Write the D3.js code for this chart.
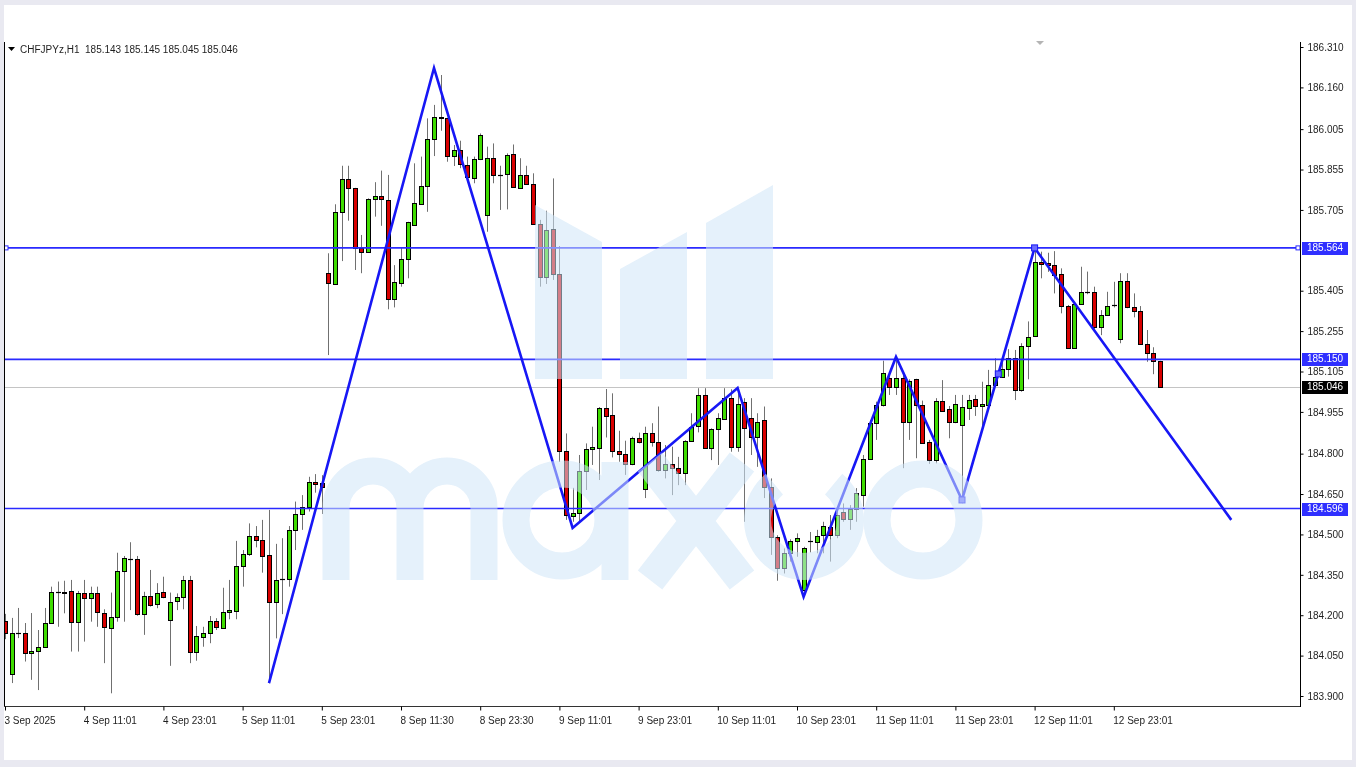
<!DOCTYPE html>
<html><head><meta charset="utf-8">
<script src="https://cdn.jsdelivr.net/npm/d3@7/dist/d3.min.js"></script>
<style>
html,body{margin:0;padding:0;background:#e9e9f1;overflow:hidden;}
svg{display:block;font-family:"Liberation Sans",Arial,sans-serif;}
</style></head><body>
<svg id="c" width="1356" height="767"></svg>
<script>
// ---------------- DATA ----------------
const opens=[184.180,183.982,184.132,184.135,184.061,184.066,184.083,184.170,184.284,184.281,
184.290,184.176,184.281,184.263,184.281,184.207,184.151,184.194,184.364,184.409,
184.408,184.203,184.271,184.242,184.287,184.182,184.254,184.266,184.331,184.062,
184.120,184.133,184.177,184.153,184.213,184.217,184.384,184.426,184.495,184.479,
184.423,184.250,184.332,184.333,184.517,184.575,184.603,184.694,184.690,185.470,
185.429,185.696,185.820,185.785,185.565,185.548,185.746,185.758,185.743,185.373,
185.435,185.522,185.649,185.727,185.795,185.967,186.051,186.045,185.905,185.928,
185.873,185.825,185.893,185.688,185.899,185.835,185.838,185.911,185.785,185.835,
185.801,185.652,185.457,185.633,185.467,184.811,184.570,184.579,184.736,184.816,
184.822,184.971,184.943,184.811,184.798,184.760,184.857,184.668,184.876,184.844,
184.739,184.760,184.745,184.727,184.848,184.901,185.018,184.822,184.891,184.928,
185.006,184.826,184.992,184.931,184.860,184.925,184.677,184.491,184.374,184.432,
184.477,184.294,184.475,184.473,184.498,184.528,184.498,184.584,184.556,184.593,
184.646,184.779,184.915,184.981,185.080,185.049,185.080,184.919,185.076,184.981,
184.844,184.777,184.997,184.965,184.919,184.906,184.968,185.002,184.977,184.981,
185.055,185.086,185.113,185.156,185.036,185.200,185.235,185.513,185.507,185.501,
185.467,185.348,185.191,185.356,185.401,185.401,185.271,185.315,185.348,185.225,
185.441,185.343,185.331,185.207,185.175,185.143];
const highs=[184.205,184.190,184.227,184.171,184.208,184.145,184.227,184.306,184.325,184.328,
184.331,184.290,184.331,184.306,184.306,184.222,184.284,184.432,184.420,184.471,
184.420,184.287,184.368,184.319,184.343,184.284,184.281,184.346,184.346,184.160,
184.157,184.197,184.189,184.302,184.331,184.476,184.442,184.541,184.531,184.554,
184.591,184.465,184.486,184.531,184.622,184.646,184.714,184.724,184.720,185.544,
185.726,185.869,185.869,185.787,185.612,185.748,185.808,185.851,185.835,185.500,
185.566,185.661,185.878,185.903,186.045,186.095,186.206,186.047,185.946,185.962,
185.903,185.903,185.989,185.940,185.952,185.869,185.915,185.948,185.897,185.869,
185.841,185.668,185.702,185.822,185.571,184.875,184.673,184.795,184.838,184.900,
184.973,185.040,185.024,184.885,184.848,184.863,184.878,184.900,184.913,184.975,
184.832,184.826,184.788,184.850,184.950,185.043,185.043,184.894,184.950,185.043,
185.039,185.037,185.006,185.006,184.950,184.975,184.708,184.497,184.448,184.482,
184.504,184.454,184.509,184.517,184.547,184.572,184.603,184.615,184.609,184.672,
184.795,184.925,184.993,185.145,185.098,185.145,185.098,185.076,185.078,184.997,
184.851,185.006,185.073,184.977,185.018,185.018,185.018,185.018,185.067,185.111,
185.154,185.160,185.188,185.185,185.210,185.291,185.569,185.550,185.546,185.552,
185.488,185.352,185.358,185.494,185.476,185.420,185.333,185.401,185.438,185.470,
185.470,185.395,185.348,185.259,185.195,185.145];
const lows=[184.111,183.948,184.115,184.028,183.960,183.922,184.083,184.170,184.157,184.207,
184.065,184.065,184.102,184.176,184.157,184.022,183.910,184.176,184.176,184.219,
184.198,184.127,184.232,184.226,184.263,184.012,184.219,184.222,184.022,184.031,
184.083,184.096,184.145,184.151,184.185,184.185,184.306,184.420,184.452,184.358,
183.947,184.114,184.204,184.306,184.442,184.517,184.585,184.655,184.576,185.166,
185.429,185.515,185.665,185.482,185.470,185.548,185.680,185.646,185.336,185.343,
185.420,185.451,185.647,185.725,185.698,185.905,185.999,185.884,185.868,185.860,
185.823,185.804,185.890,185.624,185.804,185.705,185.707,185.787,185.783,185.798,
185.649,185.420,185.430,185.445,184.769,184.554,184.547,184.547,184.665,184.758,
184.702,184.860,184.786,184.770,184.721,184.757,184.838,184.635,184.826,184.733,
184.708,184.646,184.683,184.683,184.844,184.879,184.818,184.776,184.758,184.925,
184.807,184.807,184.547,184.795,184.751,184.635,184.424,184.328,184.355,184.399,
184.417,184.275,184.433,184.430,184.430,184.399,184.486,184.547,184.517,184.547,
184.603,184.777,184.851,184.975,185.018,185.018,184.746,184.851,184.783,184.838,
184.762,184.764,184.956,184.857,184.913,184.622,184.925,184.940,184.900,184.975,
185.049,185.083,185.086,184.999,185.030,185.076,185.233,185.451,185.475,185.395,
185.321,185.189,185.189,185.352,185.392,185.259,185.240,185.311,185.343,185.210,
185.340,185.306,185.204,185.141,185.095,185.045];
const closes=[184.133,184.135,184.134,184.059,184.068,184.081,184.170,184.287,184.285,184.287,
184.174,184.281,184.263,184.281,184.211,184.157,184.194,184.364,184.411,184.408,
184.203,184.271,184.238,184.284,184.269,184.250,184.266,184.331,184.062,184.123,
184.133,184.177,184.155,184.211,184.219,184.383,184.426,184.495,184.479,184.420,
184.250,184.331,184.334,184.517,184.576,184.603,184.696,184.686,184.675,185.433,
185.696,185.820,185.788,185.563,185.548,185.746,185.758,185.745,185.373,185.438,
185.522,185.659,185.730,185.795,185.968,186.051,186.045,185.905,185.928,185.875,
185.829,185.894,185.983,185.897,185.835,185.833,185.909,185.789,185.835,185.801,
185.652,185.457,185.632,185.467,184.811,184.572,184.579,184.736,184.816,184.823,
184.971,184.940,184.811,184.798,184.760,184.857,184.844,184.876,184.844,184.739,
184.760,184.745,184.727,184.848,184.898,185.018,184.821,184.891,184.934,185.006,
184.826,184.984,184.895,184.860,184.918,184.677,184.491,184.374,184.432,184.477,
184.485,184.448,184.477,184.495,184.531,184.498,184.572,184.556,184.593,184.653,
184.779,184.915,184.981,185.098,185.049,185.080,184.919,185.071,184.981,184.841,
184.777,184.997,184.959,184.919,184.984,184.972,184.999,184.977,184.984,185.055,
185.086,185.113,185.154,185.036,185.200,185.233,185.513,185.504,185.501,185.465,
185.348,185.191,185.356,185.401,185.402,185.271,185.315,185.348,185.352,185.441,
185.343,185.331,185.207,185.175,185.145,185.046];

const xTickBars=[0,12,24,36,48,60,72,84,96,108,120,132,144,156,168];
const xTickLabels=["3 Sep 2025","4 Sep 11:01","4 Sep 23:01","5 Sep 11:01","5 Sep 23:01","8 Sep 11:30","8 Sep 23:30","9 Sep 11:01","9 Sep 23:01","10 Sep 11:01","10 Sep 23:01","11 Sep 11:01","11 Sep 23:01","12 Sep 11:01","12 Sep 23:01"];
const yTickValues=[186.310,186.160,186.005,185.855,185.705,185.405,185.255,185.105,184.955,184.800,184.650,184.500,184.350,184.200,184.050,183.900];
const levelPrices=[185.564,185.150,184.596];
const bidPrice=185.046;
const zigzagBars=[40,65,86,111,121,135,145,156,185.8];
const zigzagPrices=[183.948,186.232,184.524,185.044,184.268,185.159,184.628,185.564,184.554];
const titleText="CHFJPYz,H1  185.143 185.145 185.045 185.046";

// ---------------- LAYOUT ----------------
const PL=4, PR=1300, PT=42, PB=706;
const svg=d3.select("#c");
const x=d3.scaleLinear().domain([0,175]).range([5,1160]);
const y=d3.scaleLinear().domain([183.900,186.310]).range([696,47]);

svg.append("rect").attr("x",4).attr("y",5).attr("width",1348).attr("height",755).attr("fill","#ffffff");

const defs=svg.append("defs");
defs.append("clipPath").attr("id","clip").append("rect")
  .attr("x",PL+1).attr("y",PT).attr("width",PR-PL-1).attr("height",PB-PT);

const plot=svg.append("g").attr("clip-path","url(#clip)");

// bid line
plot.append("line").attr("x1",PL).attr("x2",PR)
  .attr("y1",Math.round(y(bidPrice))+0.5).attr("y2",Math.round(y(bidPrice))+0.5)
  .attr("stroke","#c4c4c4").attr("stroke-width",1);

// candles
const data=d3.range(opens.length).map(i=>({i,o:opens[i],h:highs[i],l:lows[i],c:closes[i]}));
const cg=plot.append("g");
cg.selectAll("line.wick").data(data).join("line").attr("class","wick")
  .attr("x1",d=>Math.round(x(d.i))+0.5).attr("x2",d=>Math.round(x(d.i))+0.5)
  .attr("y1",d=>y(Math.max(d.h,d.o,d.c))).attr("y2",d=>y(Math.min(d.l,d.o,d.c)))
  .attr("stroke","#707070").attr("stroke-width",1);
const bodies=data.filter(d=>Math.abs(y(d.o)-y(d.c))>=1.5);
cg.selectAll("rect.body").data(bodies).join("rect").attr("class","body")
  .attr("x",d=>Math.round(x(d.i))-1.5).attr("width",4)
  .attr("y",d=>Math.round(y(Math.max(d.o,d.c)))+0.5)
  .attr("height",d=>Math.max(1,Math.round(y(Math.min(d.o,d.c)))-Math.round(y(Math.max(d.o,d.c)))))
  .attr("fill",d=>d.c>=d.o?"#3fdc00":"#d80000")
  .attr("stroke","#000").attr("stroke-width",1);
const dojis=data.filter(d=>Math.abs(y(d.o)-y(d.c))<1.5);
cg.selectAll("line.doji").data(dojis).join("line").attr("class","doji")
  .attr("x1",d=>Math.round(x(d.i))-2).attr("x2",d=>Math.round(x(d.i))+3)
  .attr("y1",d=>Math.round(y(d.c))+0.5).attr("y2",d=>Math.round(y(d.c))+0.5)
  .attr("stroke","#000").attr("stroke-width",1.2);

// level lines
plot.selectAll("line.lvl").data(levelPrices).join("line").attr("class","lvl")
  .attr("x1",PL).attr("x2",PR).attr("y1",d=>y(d)).attr("y2",d=>y(d))
  .attr("stroke","#2a2aff").attr("stroke-width",1.6);
// small square handles on first level
[PL+2,PR-2].forEach(px=>{
  plot.append("rect").attr("x",px-2).attr("y",y(levelPrices[0])-2).attr("width",4).attr("height",4)
   .attr("fill","#fff").attr("stroke","#2a2aff").attr("stroke-width",1);
});

// zigzag
const zz=zigzagBars.map((b,i)=>[x(b),y(zigzagPrices[i])]);
plot.append("path").attr("d",d3.line()(zz)).attr("fill","none")
  .attr("stroke","#1717f5").attr("stroke-width",2.6).attr("stroke-linejoin","miter");
// handles
[6,7].forEach(k=>{
  plot.append("rect").attr("x",zz[k][0]-3).attr("y",zz[k][1]-3).attr("width",6).attr("height",6)
   .attr("fill","#6a6aff").attr("stroke","#1717f5").attr("stroke-width",1);
});
{
  const mx=(zz[6][0]+zz[7][0])/2, my=(zz[6][1]+zz[7][1])/2;
  plot.append("rect").attr("x",mx-3).attr("y",my-3).attr("width",6).attr("height",6)
   .attr("fill","#6a6aff").attr("stroke","#1717f5").attr("stroke-width",1);
}

// watermark overlay (maxco)
const wm=plot.append("g").attr("opacity",0.55);
const wmc="#cfe5f7";
wm.append("polygon").attr("points","535,205 602,242 602,379 535,379").attr("fill",wmc);
wm.append("polygon").attr("points","620,269 687,232 687,379 620,379").attr("fill",wmc);
wm.append("polygon").attr("points","706,223 773,185 773,379 706,379").attr("fill",wmc);
const sw=27;
// m
wm.append("path").attr("d","M336,580 V508 A37,37 0 0 1 410,508 V580 M410,508 A37,37 0 0 1 484,508 V580")
  .attr("fill","none").attr("stroke",wmc).attr("stroke-width",sw);
// a
wm.append("circle").attr("cx",562).attr("cy",520).attr("r",46).attr("fill","none").attr("stroke",wmc).attr("stroke-width",sw);
wm.append("line").attr("x1",615).attr("x2",615).attr("y1",462).attr("y2",580).attr("stroke",wmc).attr("stroke-width",sw);
// x
wm.append("line").attr("x1",650).attr("y1",462).attr("x2",742).attr("y2",580).attr("stroke",wmc).attr("stroke-width",sw+4);
wm.append("line").attr("x1",742).attr("y1",462).attr("x2",650).attr("y2",580).attr("stroke",wmc).attr("stroke-width",sw+4);
// c
{
  const arc=d3.arc().innerRadius(33).outerRadius(60).startAngle(Math.PI*0.22).endAngle(Math.PI*1.78);
  wm.append("path").attr("d",arc()).attr("transform","translate(804,520)").attr("fill",wmc);
}
// o
wm.append("circle").attr("cx",923).attr("cy",520).attr("r",46).attr("fill","none").attr("stroke",wmc).attr("stroke-width",sw);

// ---------------- FRAME & AXES ----------------
svg.append("line").attr("x1",PL+0.5).attr("x2",PL+0.5).attr("y1",PT).attr("y2",PB).attr("stroke","#000");
svg.append("line").attr("x1",PL).attr("x2",PR+1).attr("y1",PB+0.5).attr("y2",PB+0.5).attr("stroke","#333");
svg.append("line").attr("x1",PR+0.5).attr("x2",PR+0.5).attr("y1",PT).attr("y2",PB+1).attr("stroke","#000");

const ya=svg.append("g").attr("transform",`translate(${PR+0.5},0)`)
  .call(d3.axisRight(y).tickValues(yTickValues).tickSize(3).tickPadding(4).tickFormat(d3.format(".3f")));
ya.select(".domain").remove();
ya.selectAll("text").attr("font-size",10).attr("font-family","Liberation Sans, Arial, sans-serif").attr("fill","#1e1e1e");
ya.selectAll("line").attr("stroke","#000");

const xa=svg.append("g").attr("transform",`translate(0,${PB+0.5})`)
  .call(d3.axisBottom(x).tickValues(xTickBars).tickSize(4).tickPadding(6).tickFormat((d,i)=>xTickLabels[i]));
xa.select(".domain").remove();
xa.selectAll("text").attr("font-size",10).attr("font-family","Liberation Sans, Arial, sans-serif")
  .attr("fill","#1e1e1e").attr("text-anchor","start").attr("dx",-1);
xa.selectAll("line").attr("stroke","#000");

// price tags
const tags=levelPrices.map(p=>({p,bg:"#2f2fff"})).concat([{p:bidPrice,bg:"#000000"}]);
const tg=svg.append("g");
tags.forEach(t=>{
  const yy=Math.round(y(t.p));
  tg.append("rect").attr("x",PR+2).attr("y",yy-6).attr("width",46).attr("height",13).attr("fill",t.bg);
  tg.append("text").attr("x",PR+7).attr("y",yy+0.5).attr("dominant-baseline","middle")
    .attr("font-size",10).attr("fill","#fff").text(d3.format(".3f")(t.p));
});

// title
svg.append("path").attr("d","M8,47 L15,47 L11.5,51 Z").attr("fill","#000");
svg.append("text").attr("x",20).attr("y",52.5).attr("font-size",10).attr("fill","#1e1e1e")
  .attr("xml:space","preserve").style("white-space","pre").text(titleText);
// small grey marker
svg.append("path").attr("d","M1036,41 L1044,41 L1040,45 Z").attr("fill","#b4b4b4");
</script>
</body></html>
